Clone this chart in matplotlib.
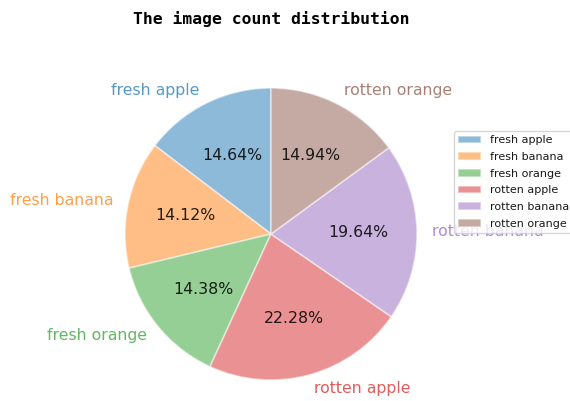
import matplotlib
matplotlib.use("Agg")
import matplotlib.pyplot as plt

categories = ["fresh apple", "fresh banana", "fresh orange", "rotten apple", "rotten banana", "rotten orange"]
shares = [14.64, 14.12, 14.38, 22.28, 19.64, 14.94]
colors = ["tab:blue", "tab:orange", "tab:green", "tab:red", "tab:purple", "tab:brown"]

fig = plt.figure(figsize=(5.70, 4.01), dpi=100)
ax = fig.add_axes([(271 - 146) / 570, (167 - 146) / 401, 292 / 570, 292 / 401])

wedges, texts, autotexts = ax.pie(
    shares, labels=categories, colors=colors, autopct="%.2f%%", startangle=90,
    wedgeprops=dict(alpha=0.5, edgecolor="white", linewidth=1.2),
    textprops=dict(fontsize=11.3), labeldistance=1.1, pctdistance=0.6,
)
for t, c in zip(texts, colors):
    t.set_color(c)
    t.set_alpha(0.75)
for t in autotexts:
    t.set_color("black")
    t.set_alpha(0.85)
ax.set_xlim(-1, 1)
ax.set_ylim(-1, 1)
ax.set_aspect("equal")

fig.suptitle("The image count distribution", fontfamily="DejaVu Sans Mono",
             fontweight="bold", fontsize=11.8, x=271 / 570, y=(401 - 19) / 401, va="center")

leg = fig.legend(wedges, categories, loc="upper left", bbox_to_anchor=(454 / 570, (401 - 131) / 401),
                 borderaxespad=0, fontsize=8, frameon=True, labelspacing=0.6)
for t in leg.get_texts():
    t.set_alpha(0.9)

fig.savefig("out.png", dpi=100)
